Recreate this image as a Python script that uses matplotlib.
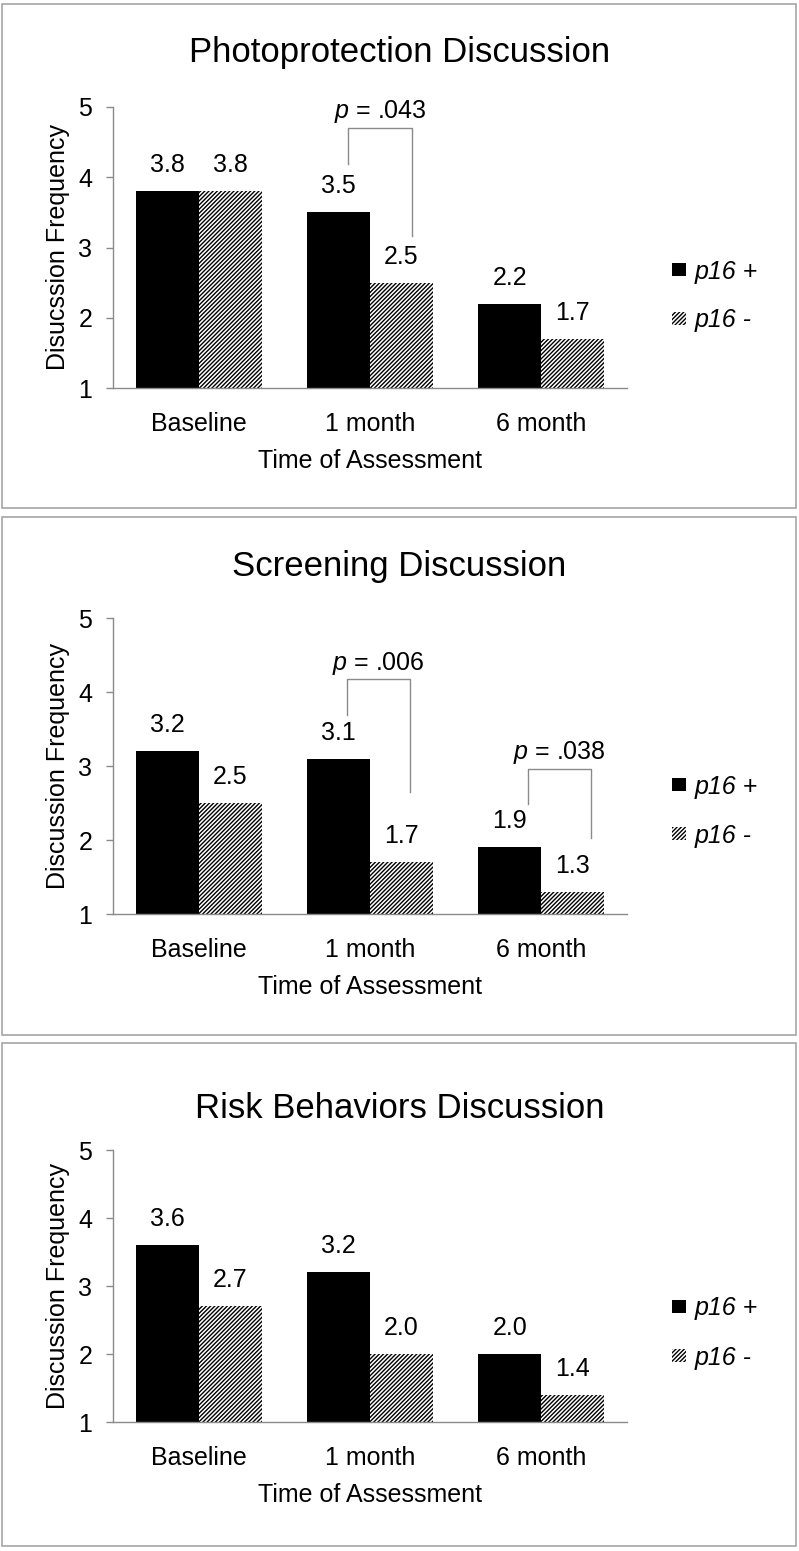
import matplotlib
matplotlib.use("Agg")
import matplotlib.pyplot as plt
import numpy as np
from matplotlib.patches import Patch, Rectangle

plt.rcParams.update({
    "font.family": ["Liberation Sans", "DejaVu Sans"],
    "mathtext.fontset": "custom",
    "mathtext.rm": "Liberation Sans",
    "mathtext.it": "Liberation Sans:italic",
    "hatch.linewidth": 1.0,
})

# ---------------------------------------------------------------------------
# data
# ---------------------------------------------------------------------------
timepoints = ["Baseline", "1 month", "6 month"]
group_labels = ["p16 +", "p16 -"]

titles = ["Photoprotection Discussion", "Screening Discussion",
          "Risk Behaviors Discussion"]
ylabels = ["Disucssion Frequency", "Discussion Frequency",
           "Discussion Frequency"]

photo_pos = [3.8, 3.5, 2.2]
photo_neg = [3.8, 2.5, 1.7]
screen_pos = [3.2, 3.1, 1.9]
screen_neg = [2.5, 1.7, 1.3]
risk_pos = [3.6, 3.2, 2.0]
risk_neg = [2.7, 2.0, 1.4]

photo_p = [".043"]
screen_p = [".006", ".038"]
risk_p = []

# ---------------------------------------------------------------------------
# layout (pixels of the 799 x 1551 canvas)
# ---------------------------------------------------------------------------
W, H = 799, 1551
GRAY = "#8a8a8a"
BAR_W = 0.368
HATCH = "////////"
FS = 18

def fx(px):
    return px / W

def fy(py):
    return 1 - py / H

panel_boxes = [(4, 508), (517, 1035), (1043, 1546)]
axes_rows = [(107, 388), (618, 914), (1150, 1422)]
title_base = [62, 576, 1118]
legend_mid = [296, 811, 1333]

# bracket geometry (x_left, x_right, y_top, y_left_end, y_right_end, y_text)
photo_br = [(0.872, 1.245, 4.70, 4.19, 3.17, 4.94)]
screen_br = [(0.866, 1.234, 4.18, 3.69, 2.65, 4.39),
             (1.923, 2.290, 2.96, 2.49, 2.03, 3.18)]
risk_br = []

panels = [
    (photo_pos, photo_neg, photo_p, photo_br),
    (screen_pos, screen_neg, screen_p, screen_br),
    (risk_pos, risk_neg, risk_p, risk_br),
]

fig = plt.figure(figsize=(W / 100, H / 100), dpi=100)

for i, (pos, neg, pvals, brackets) in enumerate(panels):
    top, bot = axes_rows[i]
    ax = fig.add_axes([fx(113), fy(bot), (627 - 113) / W, (bot - top) / H])
    x = np.arange(len(timepoints))

    ax.bar(x - BAR_W / 2, pos, BAR_W, color="black", linewidth=0)
    ax.bar(x + BAR_W / 2, neg, BAR_W, facecolor="white", edgecolor="black",
           hatch=HATCH, linewidth=0)

    for xi, v in zip(x - BAR_W / 2, pos):
        ax.annotate(f"{v:.1f}", (xi, v), xytext=(0, 26),
                    textcoords="offset pixels", ha="center", va="center",
                    fontsize=FS)
    for xi, v in zip(x + BAR_W / 2, neg):
        ax.annotate(f"{v:.1f}", (xi, v), xytext=(0, 26),
                    textcoords="offset pixels", ha="center", va="center",
                    fontsize=FS)

    # significance brackets
    for pv, (xl, xr, yt, yl, yr, ytx) in zip(pvals, brackets):
        ax.plot([xl, xl, xr, xr], [yl, yt, yt, yr], color=GRAY, lw=1.0,
                clip_on=False)
        ax.text((xl + xr) / 2, ytx, f"$\\it{{p}}$ = {pv}", ha="center",
                va="center", fontsize=FS)

    ax.set_xlim(-0.5, 2.5)
    ax.set_ylim(1, 5)
    ax.set_yticks([1, 2, 3, 4, 5])
    ax.set_xticks(x, timepoints)
    for side in ["top", "right"]:
        ax.spines[side].set_visible(False)
    for side in ["left", "bottom"]:
        ax.spines[side].set_color(GRAY)
        ax.spines[side].set_linewidth(1.0)
    ax.tick_params(axis="x", length=0, pad=17, labelsize=FS)
    ax.tick_params(axis="y", length=5, width=1.0, color=GRAY, pad=10,
                   labelsize=FS)
    ax.set_xlabel("Time of Assessment", fontsize=FS, labelpad=10)
    ax.set_ylabel(ylabels[i], fontsize=FS, labelpad=6)

    fig.text(0.5, fy(title_base[i]), titles[i], ha="center", va="baseline",
             fontsize=25)

    handles = [Patch(facecolor="black", edgecolor="black", linewidth=0),
               Patch(facecolor="white", edgecolor="black", hatch=HATCH,
                     linewidth=0)]
    fig.legend(handles, group_labels, loc="center left",
               bbox_to_anchor=(fx(672), fy(legend_mid[i])),
               bbox_transform=fig.transFigure, frameon=False,
               prop={"size": FS, "style": "italic"},
               handlelength=0.55, handleheight=0.45, handletextpad=0.35,
               labelspacing=1.0, borderpad=0, borderaxespad=0)

    b_top, b_bot = panel_boxes[i]
    fig.add_artist(Rectangle((fx(2), fy(b_bot)), (796 - 2) / W,
                             (b_bot - b_top) / H, transform=fig.transFigure,
                             fill=False, edgecolor="#a6a6a6", linewidth=1.2))

fig.savefig("out.png", dpi=100)
